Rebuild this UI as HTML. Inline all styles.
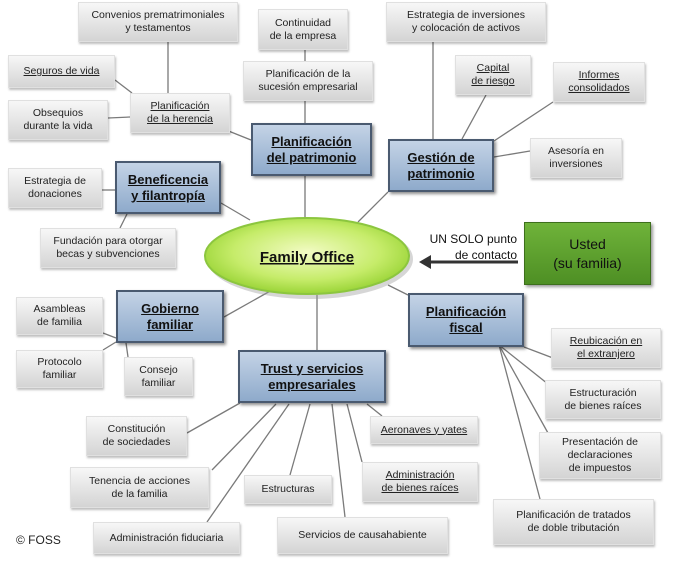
<!DOCTYPE html>
<html><head><meta charset="utf-8"><style>
body{margin:0;background:#fff;width:679px;height:561px;position:relative;overflow:hidden;font-family:"Liberation Sans",sans-serif}
.b{position:absolute;box-sizing:border-box;display:flex;align-items:center;justify-content:center;text-align:center;font-size:10.5px;line-height:13px;color:#222;background:linear-gradient(#f7f7f7,#d4d4d4);border:1px solid #e0e0e0;box-shadow:1px 2px 2px rgba(0,0,0,.25)}
.m{position:absolute;box-sizing:border-box;display:flex;align-items:center;justify-content:center;text-align:center;font-size:13px;line-height:16px;font-weight:bold;color:#111;background:linear-gradient(#c4d3e6,#8eaacb);border:2px solid #4a5a70;box-shadow:2px 2px 3px rgba(0,0,0,.45);text-decoration:underline}
u{text-decoration:underline}
svg{position:absolute;left:0;top:0}
</style></head><body>
<svg width="679" height="561">
<g stroke="#7a7a7a" stroke-width="1.3" fill="none">
<line x1="168" y1="42" x2="168" y2="93"/><line x1="115" y1="80" x2="132" y2="93"/><line x1="108" y1="118" x2="130" y2="117"/><line x1="226" y1="130" x2="251" y2="140"/>
<line x1="305" y1="50" x2="305" y2="61"/><line x1="305" y1="101" x2="305" y2="123"/><line x1="305" y1="176" x2="305" y2="220"/>
<line x1="433" y1="42" x2="433" y2="139"/><line x1="486" y1="95" x2="462" y2="139"/><line x1="553" y1="102" x2="494" y2="141"/><line x1="530" y1="151" x2="494" y2="157"/>
<line x1="388" y1="192" x2="358" y2="222"/>
<line x1="102" y1="190" x2="115" y2="190"/><line x1="120" y1="228" x2="127" y2="214"/><line x1="221" y1="203" x2="250" y2="220"/>
<line x1="224" y1="317" x2="272" y2="290"/><line x1="103" y1="333" x2="116" y2="338"/><line x1="103" y1="350" x2="116" y2="342"/><line x1="128" y1="357" x2="126" y2="343"/>
<line x1="317" y1="350" x2="317" y2="295"/><line x1="408" y1="295" x2="388" y2="285"/>
<line x1="524" y1="347" x2="553" y2="358"/><line x1="499" y1="345" x2="553" y2="388"/><line x1="499" y1="345" x2="548" y2="433"/><line x1="499" y1="345" x2="540" y2="499"/>
<line x1="240" y1="403" x2="187" y2="433"/><line x1="276" y1="404" x2="212" y2="470"/><line x1="289" y1="404" x2="207" y2="522"/><line x1="310" y1="404" x2="290" y2="475"/><line x1="332" y1="404" x2="345" y2="517"/><line x1="347" y1="404" x2="362" y2="462"/><line x1="367" y1="404" x2="382" y2="416"/>
</g>
<defs><radialGradient id="g" cx="50%" cy="45%" r="60%"><stop offset="0" stop-color="#f2fbc4"/><stop offset=".6" stop-color="#c6ec6a"/><stop offset="1" stop-color="#8fce2a"/></radialGradient></defs>
<ellipse cx="310" cy="259" rx="103" ry="40" fill="#999" opacity=".4"/>
<ellipse cx="307" cy="256" rx="102" ry="38" fill="url(#g)" stroke="#8cc63f" stroke-width="2"/>
<text x="307" y="262" text-anchor="middle" font-family="Liberation Sans" font-weight="bold" font-size="15" fill="#111" text-decoration="underline">Family Office</text>
<line x1="518" y1="262" x2="428" y2="262" stroke="#333" stroke-width="3"/><polygon points="419,262 431,255 431,269" fill="#333"/>
<text x="517" y="243" text-anchor="end" font-family="Liberation Sans" font-size="12" fill="#111">UN SOLO punto</text>
<text x="517" y="259" text-anchor="end" font-family="Liberation Sans" font-size="12" fill="#111">de contacto</text>
</svg>
<div class="b" style="left:78px;top:2px;width:160px;height:40px">Convenios prematrimoniales<br>y testamentos</div>
<div class="b" style="left:258px;top:9px;width:90px;height:41px">Continuidad<br>de la empresa</div>
<div class="b" style="left:243px;top:61px;width:130px;height:40px">Planificación de la<br>sucesión empresarial</div>
<div class="b" style="left:386px;top:2px;width:160px;height:40px">Estrategia de inversiones<br>y colocación de activos</div>
<div class="b" style="left:455px;top:55px;width:76px;height:40px"><u>Capital<br>de riesgo</u></div>
<div class="b" style="left:553px;top:62px;width:92px;height:40px"><u>Informes<br>consolidados</u></div>
<div class="b" style="left:8px;top:55px;width:107px;height:33px"><u>Seguros de vida</u></div>
<div class="b" style="left:8px;top:100px;width:100px;height:40px">Obsequios<br>durante la vida</div>
<div class="b" style="left:130px;top:93px;width:100px;height:40px"><u>Planificación<br>de la herencia</u></div>
<div class="m" style="left:251px;top:123px;width:121px;height:53px">Planificación<br>del patrimonio</div>
<div class="m" style="left:388px;top:139px;width:106px;height:53px">Gestión de<br>patrimonio</div>
<div class="b" style="left:530px;top:138px;width:92px;height:40px">Asesoría en<br>inversiones</div>
<div class="m" style="left:115px;top:161px;width:106px;height:53px">Beneficencia<br>y filantropía</div>
<div class="b" style="left:8px;top:168px;width:94px;height:40px">Estrategia de<br>donaciones</div>
<div class="b" style="left:40px;top:228px;width:136px;height:40px">Fundación para otorgar<br>becas y subvenciones</div>
<div style="position:absolute;left:524px;top:222px;width:127px;height:63px;box-sizing:border-box;background:linear-gradient(#6fb33a,#4e8f24);border:1px solid #3d6f1c;box-shadow:2px 2px 3px rgba(0,0,0,.4);display:flex;align-items:center;justify-content:center;text-align:center;font-size:14px;line-height:19px;color:#111">Usted<br>(su familia)</div>
<div class="m" style="left:116px;top:290px;width:108px;height:53px">Gobierno<br>familiar</div>
<div class="m" style="left:408px;top:293px;width:116px;height:54px">Planificación<br>fiscal</div>
<div class="b" style="left:16px;top:297px;width:87px;height:38px">Asambleas<br>de familia</div>
<div class="b" style="left:16px;top:350px;width:87px;height:38px">Protocolo<br>familiar</div>
<div class="b" style="left:124px;top:357px;width:69px;height:39px">Consejo<br>familiar</div>
<div class="m" style="left:238px;top:350px;width:148px;height:53px">Trust y servicios<br>empresariales</div>
<div class="b" style="left:86px;top:416px;width:101px;height:40px">Constitución<br>de sociedades</div>
<div class="b" style="left:70px;top:467px;width:139px;height:41px">Tenencia de acciones<br>de la familia</div>
<div class="b" style="left:93px;top:522px;width:147px;height:32px">Administración fiduciaria</div>
<div class="b" style="left:244px;top:475px;width:88px;height:29px">Estructuras</div>
<div class="b" style="left:277px;top:517px;width:171px;height:37px">Servicios de causahabiente</div>
<div class="b" style="left:370px;top:416px;width:108px;height:28px"><u>Aeronaves y yates</u></div>
<div class="b" style="left:362px;top:462px;width:116px;height:40px"><u>Administración<br>de bienes raíces</u></div>
<div class="b" style="left:551px;top:328px;width:110px;height:40px"><u>Reubicación en<br>el extranjero</u></div>
<div class="b" style="left:545px;top:380px;width:116px;height:39px">Estructuración<br>de bienes raíces</div>
<div class="b" style="left:539px;top:432px;width:122px;height:47px">Presentación de<br>declaraciones<br>de impuestos</div>
<div class="b" style="left:493px;top:499px;width:161px;height:46px">Planificación de tratados<br>de doble tributación</div>
<div style="position:absolute;left:16px;top:533px;font-size:12px;color:#222">© FOSS</div>
</body></html>
